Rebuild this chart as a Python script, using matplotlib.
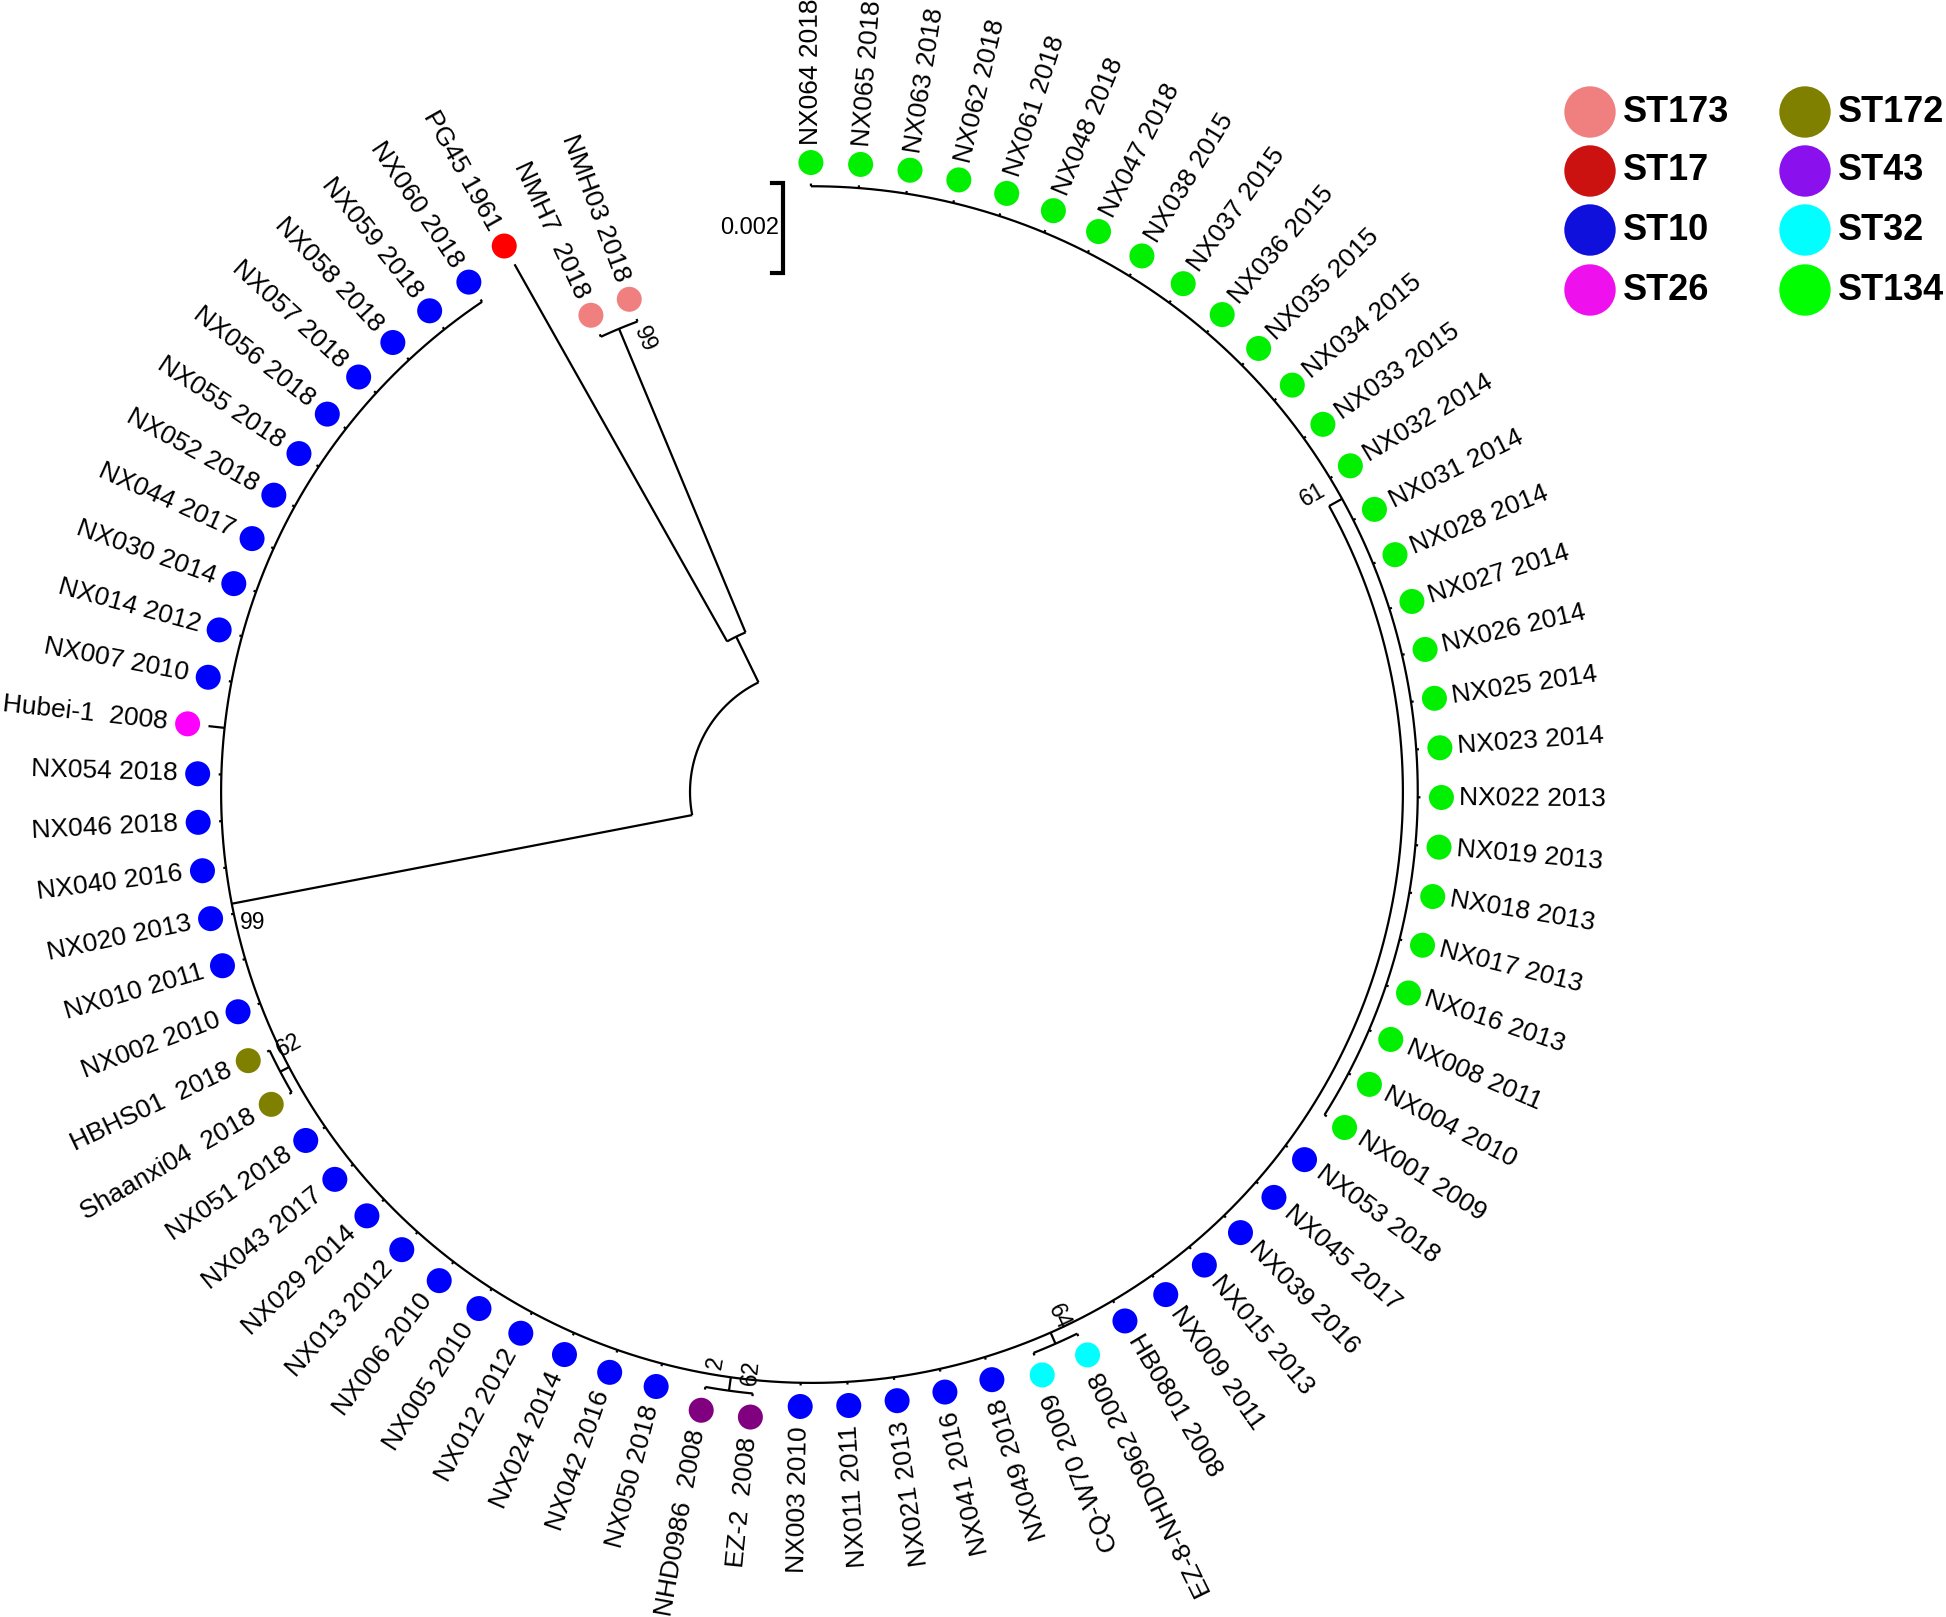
"""Circular phylogenetic tree of isolates coloured by sequence type."""

import matplotlib.pyplot as plt
import numpy as np

plt.rcParams["font.family"] = ["Liberation Sans", "DejaVu Sans"]

# ---- data: leaves in clockwise order, starting at the top ----
LEAF_NAMES = [
    "NX064 2018", "NX065 2018", "NX063 2018", "NX062 2018", "NX061 2018",
    "NX048 2018", "NX047 2018", "NX038 2015", "NX037 2015", "NX036 2015",
    "NX035 2015", "NX034 2015", "NX033 2015", "NX032 2014", "NX031 2014",
    "NX028 2014", "NX027 2014", "NX026 2014", "NX025 2014", "NX023 2014",
    "NX022 2013", "NX019 2013", "NX018 2013", "NX017 2013", "NX016 2013",
    "NX008 2011", "NX004 2010", "NX001 2009",
    "NX053 2018", "NX045 2017", "NX039 2016", "NX015 2013", "NX009 2011",
    "HB0801 2008",
    "EZ-8-NHD0962 2008", "CQ-W70 2009",
    "NX049 2018", "NX041 2016", "NX021 2013", "NX011 2011", "NX003 2010",
    "EZ-2  2008", "NHD0986  2008",
    "NX050 2018", "NX042 2016", "NX024 2014", "NX012 2012", "NX005 2010",
    "NX006 2010", "NX013 2012", "NX029 2014", "NX043 2017", "NX051 2018",
    "Shaanxi04  2018", "HBHS01  2018",
    "NX002 2010", "NX010 2011", "NX020 2013", "NX040 2016", "NX046 2018",
    "NX054 2018",
    "Hubei-1  2008",
    "NX007 2010", "NX014 2012", "NX030 2014", "NX044 2017", "NX052 2018",
    "NX055 2018", "NX056 2018", "NX057 2018", "NX058 2018", "NX059 2018",
    "NX060 2018",
    "PG45 1961", "NMH7  2018", "NMH03 2018",
]
LEAF_ST = (["ST134"] * 28 + ["ST10"] * 6 + ["ST32"] * 2 + ["ST10"] * 5
           + ["ST43"] * 2 + ["ST10"] * 10 + ["ST172"] * 2 + ["ST10"] * 6
           + ["ST26"] + ["ST10"] * 11 + ["ST17"] + ["ST173"] * 2)

# terminal branch lengths (substitutions/site)
TIP_LENGTH_DEFAULT = 0.00006
TIP_LENGTH = {"Hubei-1  2008": 0.00036, "PG45 1961": 0.00962}

# internal clades: (name, first leaf, last leaf, branch length, support)
CLADES = [
    ("big", 0, 72, 0.01042, "99"),
    ("st134", 0, 27, 0.00033, "61"),
    ("st32", 34, 35, 0.00027, "64"),
    ("st43", 41, 42, 0.00030, "62"),
    ("st172", 53, 54, 0.00022, "62"),
    ("outgroup", 73, 75, 0.00113, ""),
    ("st173", 74, 75, 0.00731, "99"),
]
EXTRA_SUPPORT = {"st43": "2"}

ST_COLORS = {
    "ST173": "#F08080", "ST17": "#FF0000", "ST10": "#0000FF", "ST26": "#FF00FF",
    "ST172": "#808000", "ST43": "#800080", "ST32": "#00FFFF", "ST134": "#00F000",
}
LEGEND_LABELS = ["ST173", "ST17", "ST10", "ST26", "ST172", "ST43", "ST32", "ST134"]
LEGEND_COLORS = ["#F08080", "#CC1111", "#1010DD", "#EE11EE",
                 "#808000", "#8A10EE", "#00FFFF", "#00FF00"]

SCALE_VALUE = 0.002

# ---- layout (pixels of the 1946x1617 canvas) ----
CX, CY = 812.0, 792.0
R0 = 122.0
PX_PER_UNIT = 45000.0
THETA_START = 90.1
STEP = 4.53
BIG_NODE_ANGLE = -169.1
FLIP_BELOW = -62.0          # leaves below this angle get right-aligned labels
DOT_GAP = 21.0
LABEL_GAP_R, LABEL_GAP_L = 18.0, 20.0
LW = 1.6
LEAF_FONT = 19
NODE_FONT = 16.5
# support label placement: (d angle, d radius, rotation)
SUPPORT_POS = {
    "big": (2.2, -17, 0), "st134": (1.75, -24, 30), "st32": (1.4, -23, -65),
    "st43": (1.9, -21, 84), "st172": (-1.85, -20, 28), "st173": (-2.4, -19, -67),
}
EXTRA_POS = {"st43": (-1.7, -26, 80)}


def polar(r, deg):
    t = np.deg2rad(deg)
    return CX + r * np.cos(t), CY - r * np.sin(t)


def arc(ax, r, a0, a1):
    ts = np.linspace(a0, a1, max(8, int(abs(a1 - a0) * 3)))
    x, y = polar(r, ts)
    ax.plot(x, y, color="black", lw=LW, solid_capstyle="butt")


def radial(ax, r0, r1, deg):
    x0, y0 = polar(r0, deg)
    x1, y1 = polar(r1, deg)
    ax.plot([x0, x1], [y0, y1], color="black", lw=LW, solid_capstyle="butt")


n = len(LEAF_NAMES)
leaf_angle = [THETA_START - i * STEP for i in range(n)]

# build hierarchy from leaf ranges
nodes = {"root": (0, n - 1, 0.0, "")}
for name, a, b, bl, sup in CLADES:
    nodes[name] = (a, b, bl, sup)


def parent_of(name):
    a, b = nodes[name][:2]
    best = None
    for other, (oa, ob, _, _) in nodes.items():
        if other == name or not (oa <= a and b <= ob):
            continue
        if best is None or (ob - oa) < (nodes[best][1] - nodes[best][0]):
            best = other
    return best


parents = {k: parent_of(k) for k in nodes if k != "root"}
children = {k: [c for c, p in parents.items() if p == k] for k in nodes}
order = sorted(nodes, key=lambda k: -(nodes[k][1] - nodes[k][0]))

radius = {"root": R0}
for k in order:
    if k != "root":
        radius[k] = radius[parents[k]] + nodes[k][2] * PX_PER_UNIT


def leaf_parent(i):
    best = "root"
    for k, (a, b, _, _) in nodes.items():
        if a <= i <= b and (b - a) < (nodes[best][1] - nodes[best][0]):
            best = k
    return best


leaf_par = [leaf_parent(i) for i in range(n)]

angle = {}
for k in reversed(order):
    ch = [angle[c] for c in children[k]] + [leaf_angle[i] for i in range(n) if leaf_par[i] == k]
    angle[k] = float(np.mean(ch))
angle["big"] = BIG_NODE_ANGLE
child_angles = {
    k: [angle[c] for c in children[k]] + [leaf_angle[i] for i in range(n) if leaf_par[i] == k]
    for k in nodes
}

fig = plt.figure(figsize=(19.46, 16.17), dpi=100)
ax = fig.add_axes([0, 0, 1, 1])
ax.set_xlim(0, 1946)
ax.set_ylim(1617, 0)
ax.axis("off")

# internal arcs and branches
for k in nodes:
    ca = child_angles[k]
    arc(ax, radius[k], min(ca), max(ca))
    if k != "root":
        radial(ax, radius[parents[k]], radius[k], angle[k])

# leaves
for i, (name, st) in enumerate(zip(LEAF_NAMES, LEAF_ST)):
    th = leaf_angle[i]
    r_par = radius[leaf_par[i]]
    r_tip = r_par + TIP_LENGTH.get(name, TIP_LENGTH_DEFAULT) * PX_PER_UNIT
    radial(ax, r_par, r_tip, th)
    r_dot = r_tip + DOT_GAP
    dx, dy = polar(r_dot, th)
    ax.scatter([dx], [dy], s=324, color=ST_COLORS[st], edgecolors="none", zorder=3)
    if th >= FLIP_BELOW:
        tx, ty = polar(r_dot + LABEL_GAP_R, th)
        ax.text(tx, ty, name, rotation=th, ha="left", va="center",
                rotation_mode="anchor", fontsize=LEAF_FONT)
    else:
        tx, ty = polar(r_dot + LABEL_GAP_L, th)
        ax.text(tx, ty, name, rotation=th + 180, ha="right", va="center",
                rotation_mode="anchor", fontsize=LEAF_FONT)

# bootstrap supports
for name, a, b, bl, sup in CLADES:
    if sup:
        dth, dr, rot = SUPPORT_POS[name]
        x, y = polar(radius[name] + dr, angle[name] + dth)
        ax.text(x, y, sup, rotation=rot, ha="center", va="center",
                rotation_mode="anchor", fontsize=NODE_FONT)
    if name in EXTRA_SUPPORT:
        dth, dr, rot = EXTRA_POS[name]
        x, y = polar(radius[name] + dr, angle[name] + dth)
        ax.text(x, y, EXTRA_SUPPORT[name], rotation=rot, ha="center",
                va="center", rotation_mode="anchor", fontsize=NODE_FONT)

# scale bar
sb_x, sb_y = 783.0, 183.0
sb_len = SCALE_VALUE * PX_PER_UNIT
ax.plot([sb_x - 11, sb_x, sb_x, sb_x - 11], [sb_y, sb_y, sb_y + sb_len, sb_y + sb_len],
        color="black", lw=3.0, solid_joinstyle="miter")
ax.text(sb_x - 4, sb_y + sb_len / 2, f"{SCALE_VALUE:g}", ha="right", va="center",
        fontsize=17)

# legend
leg_x = [1590, 1805]
leg_y = [112, 171, 230, 290]
for j, (lab, col) in enumerate(zip(LEGEND_LABELS, LEGEND_COLORS)):
    cx = leg_x[j // 4]
    cy = leg_y[j % 4]
    ax.scatter([cx], [cy], s=1369, color=col, edgecolors="none")
    ax.text(cx + 33, cy, lab, ha="left", va="center", fontsize=26, fontweight="bold")

fig.savefig("out.png", dpi=100)
